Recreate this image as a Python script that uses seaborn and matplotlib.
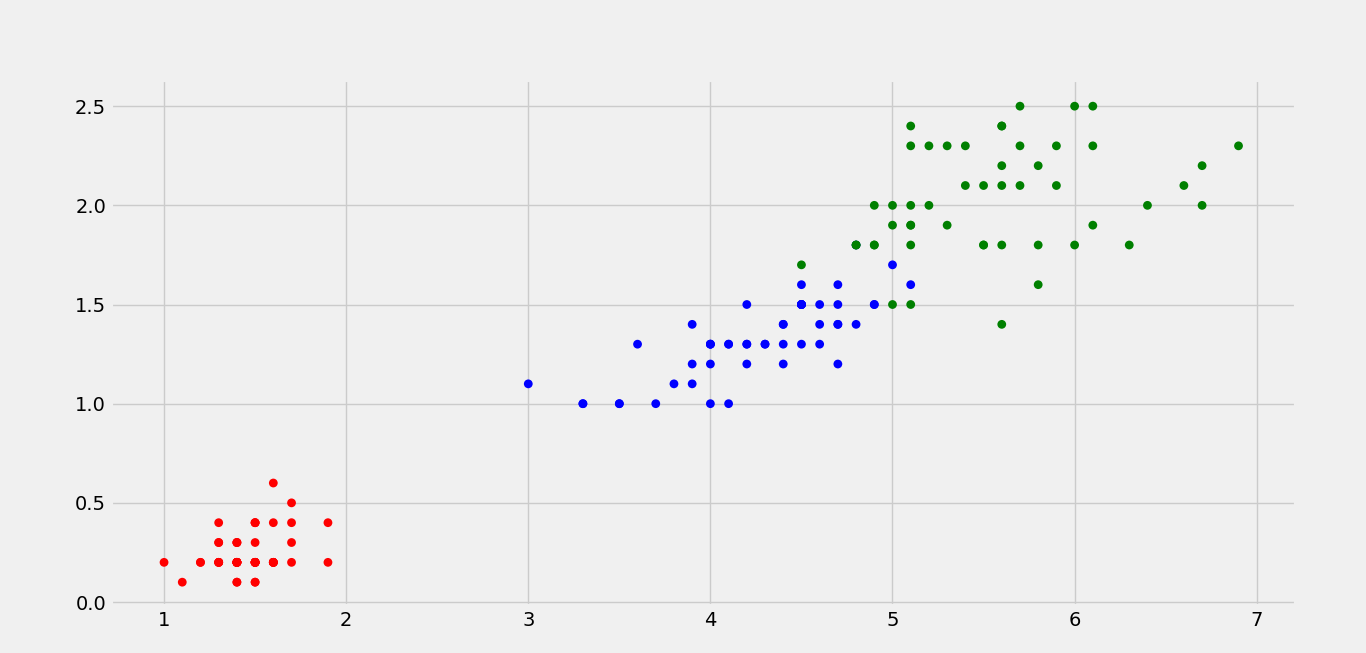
import pandas as pd
import seaborn as sns
import matplotlib.pyplot as plt

# iris: petal length / petal width per species
setosa_len = [1.4, 1.4, 1.3, 1.5, 1.4, 1.7, 1.4, 1.5, 1.4, 1.5,
              1.5, 1.6, 1.4, 1.1, 1.2, 1.5, 1.3, 1.4, 1.7, 1.5,
              1.7, 1.5, 1.0, 1.7, 1.9, 1.6, 1.6, 1.5, 1.4, 1.6,
              1.6, 1.5, 1.5, 1.4, 1.5, 1.2, 1.3, 1.4, 1.3, 1.5,
              1.3, 1.3, 1.3, 1.6, 1.9, 1.4, 1.6, 1.4, 1.5, 1.4]
setosa_wid = [0.2, 0.2, 0.2, 0.2, 0.2, 0.4, 0.3, 0.2, 0.2, 0.1,
              0.2, 0.2, 0.1, 0.1, 0.2, 0.4, 0.4, 0.3, 0.3, 0.3,
              0.2, 0.4, 0.2, 0.5, 0.2, 0.2, 0.4, 0.2, 0.2, 0.2,
              0.2, 0.4, 0.1, 0.2, 0.2, 0.2, 0.2, 0.1, 0.2, 0.2,
              0.3, 0.3, 0.2, 0.6, 0.4, 0.3, 0.2, 0.2, 0.2, 0.2]
versicolor_len = [4.7, 4.5, 4.9, 4.0, 4.6, 4.5, 4.7, 3.3, 4.6, 3.9,
                  3.5, 4.2, 4.0, 4.7, 3.6, 4.4, 4.5, 4.1, 4.5, 3.9,
                  4.8, 4.0, 4.9, 4.7, 4.3, 4.4, 4.8, 5.0, 4.5, 3.5,
                  3.8, 3.7, 3.9, 5.1, 4.5, 4.5, 4.7, 4.4, 4.1, 4.0,
                  4.4, 4.6, 4.0, 3.3, 4.2, 4.2, 4.2, 4.3, 3.0, 4.1]
versicolor_wid = [1.4, 1.5, 1.5, 1.3, 1.5, 1.3, 1.6, 1.0, 1.3, 1.4,
                  1.0, 1.5, 1.0, 1.4, 1.3, 1.4, 1.5, 1.0, 1.5, 1.1,
                  1.8, 1.3, 1.5, 1.2, 1.3, 1.4, 1.4, 1.7, 1.5, 1.0,
                  1.1, 1.0, 1.2, 1.6, 1.5, 1.6, 1.5, 1.3, 1.3, 1.3,
                  1.2, 1.4, 1.2, 1.0, 1.3, 1.2, 1.3, 1.3, 1.1, 1.3]
virginica_len = [6.0, 5.1, 5.9, 5.6, 5.8, 6.6, 4.5, 6.3, 5.8, 6.1,
                 5.1, 5.3, 5.5, 5.0, 5.1, 5.3, 5.5, 6.7, 6.9, 5.0,
                 5.7, 4.9, 6.7, 4.9, 5.7, 6.0, 4.8, 4.9, 5.6, 5.8,
                 6.1, 6.4, 5.6, 5.1, 5.6, 6.1, 5.6, 5.5, 4.8, 5.4,
                 5.6, 5.1, 5.1, 5.9, 5.7, 5.2, 5.0, 5.2, 5.4, 5.1]
virginica_wid = [2.5, 1.9, 2.1, 1.8, 2.2, 2.1, 1.7, 1.8, 1.8, 2.5,
                 2.0, 1.9, 2.1, 2.0, 2.4, 2.3, 1.8, 2.2, 2.3, 1.5,
                 2.3, 2.0, 2.0, 1.8, 2.1, 1.8, 1.8, 1.8, 2.1, 1.6,
                 1.9, 2.0, 2.2, 1.5, 1.4, 2.3, 2.4, 1.8, 1.8, 2.1,
                 2.4, 2.3, 1.9, 2.3, 2.5, 2.3, 1.9, 2.0, 2.3, 1.8]

species = ['setosa', 'versicolor', 'virginica']
colors = {'setosa': 'red', 'versicolor': 'blue', 'virginica': 'green'}

df = pd.DataFrame({
    'petal_length': setosa_len + versicolor_len + virginica_len,
    'petal_width': setosa_wid + versicolor_wid + virginica_wid,
    'species': ['setosa'] * 50 + ['versicolor'] * 50 + ['virginica'] * 50,
})

plt.style.use('fivethirtyeight')
fig, ax = plt.subplots(figsize=(13.66, 6.53), dpi=100)
fig.subplots_adjust(left=0.0813, right=0.9488, top=0.8775, bottom=0.072)
sns.scatterplot(x='petal_length', y='petal_width', hue='species', data=df,
                hue_order=species, palette=colors, s=40, linewidth=0,
                legend=False, ax=ax)
ax.set_xlim(0.709, 7.216)
ax.set_ylim(-0.02, 2.632)
ax.set_xlabel('')
ax.set_ylabel('')
fig.savefig('out.png', dpi=100)
